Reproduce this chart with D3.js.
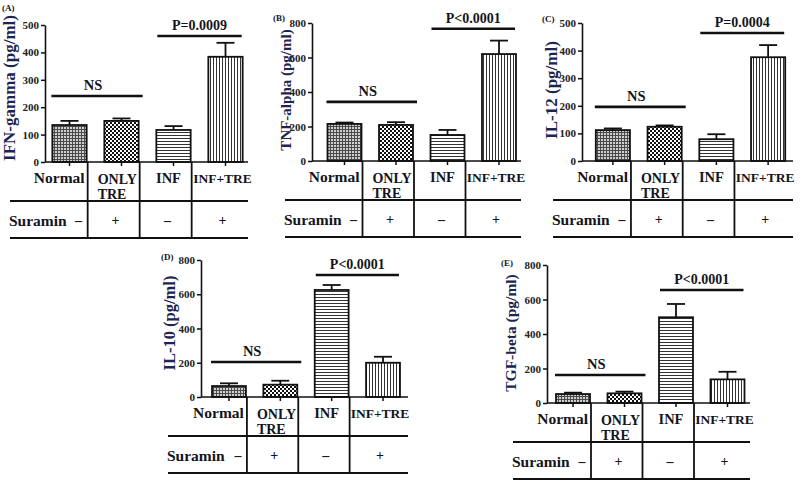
<!DOCTYPE html>
<html><head><meta charset="utf-8">
<script src="https://cdn.jsdelivr.net/npm/d3@7"></script>
<style>body{margin:0;background:#fff}svg{display:block}</style>
</head><body>
<svg id="c" width="800" height="485"></svg>
<script>
// ---------- DATA ----------
const categories = ["Normal", "ONLY TRE", "INF", "INF+TRE"];
const suramin = ["-", "+", "-", "+"];
const panelIds = ["(A)", "(B)", "(C)", "(D)", "(E)"];
const yLabels = ["IFN-gamma (pg/ml)", "TNF-alpha (pg/ml)", "IL-12 (pg/ml)", "IL-10 (pg/ml)", "TGF-beta (pg/ml)"];
const ticksA = [0, 100, 200, 300, 400, 500];
const ticksB = [0, 200, 400, 600, 800];
const ticksC = [0, 100, 200, 300, 400, 500];
const ticksD = [0, 200, 400, 600, 800];
const ticksE = [0, 200, 400, 600, 800];
const meanA = [135, 150, 117, 384];
const errA  = [15, 9, 14, 51];
const meanB = [215, 209, 151, 620];
const errB  = [8, 16, 29, 78];
const meanC = [112, 124, 79, 376];
const errC  = [6, 5, 18, 44];
const meanD = [64, 72, 625, 200];
const errD  = [16, 23, 29, 35];
const meanE = [52, 56, 497, 137];
const errE  = [8, 10, 77, 44];
const pTexts = ["P=0.0009", "P<0.0001", "P=0.0004", "P<0.0001", "P<0.0001"];
const nsLevels = [241, 343, 196, 204, 162];
const pLevels = [460, 767, 464, 712, 655];

// ---------- LAYOUT ----------
const layout = [
  {ax: 45,  y0: 162, yTop: 25,  band: [43.5, 251.5],   tL: 10,  tR: 248, idX: 2,   idY: 11,  labX: 15,  labY: 88,  labF: 17},
  {ax: 312, y0: 161, yTop: 23,  band: [318.75, 524.75], tL: 285, tR: 521, idX: 273, idY: 21, labX: 291, labY: 90,  labF: 15},
  {ax: 582, y0: 161, yTop: 23,  band: [587, 794],      tL: 553, tR: 793, idX: 542, idY: 22,  labX: 557, labY: 90,  labF: 17},
  {ax: 201, y0: 397, yTop: 260, band: [203.3, 408.7],  tL: 168, tR: 408, idX: 161, idY: 260, labX: 175, labY: 323, labF: 16.5},
  {ax: 547, y0: 403, yTop: 265, band: [547.25, 753.25], tL: 513, tR: 750, idX: 501, idY: 266, labX: 516, labY: 333, labF: 15.5}
];
const panels = [
  {ticks: ticksA, mean: meanA, err: errA},
  {ticks: ticksB, mean: meanB, err: errB},
  {ticks: ticksC, mean: meanC, err: errC},
  {ticks: ticksD, mean: meanD, err: errD},
  {ticks: ticksE, mean: meanE, err: errE}
];

const FONT = "'Liberation Serif','Times New Roman',serif";
const TXT = "#141420";
const LABC = "#1b2550";
const svg = d3.select("#c");

// ---------- PATTERNS ----------
const defs = svg.append("defs");
const pGrid = defs.append("pattern").attr("id", "pGrid").attr("patternUnits", "userSpaceOnUse").attr("width", 3).attr("height", 3);
pGrid.append("rect").attr("width", 3).attr("height", 3).attr("fill", "#cfcfcf");
pGrid.append("rect").attr("width", 3).attr("height", 1).attr("fill", "#4a4a4a");
pGrid.append("rect").attr("width", 1).attr("height", 3).attr("fill", "#4a4a4a");
const pChk = defs.append("pattern").attr("id", "pChk").attr("patternUnits", "userSpaceOnUse").attr("width", 4).attr("height", 4);
pChk.append("rect").attr("width", 4).attr("height", 4).attr("fill", "#fff");
pChk.append("rect").attr("width", 2).attr("height", 2).attr("fill", "#111");
pChk.append("rect").attr("x", 2).attr("y", 2).attr("width", 2).attr("height", 2).attr("fill", "#111");
const pH = defs.append("pattern").attr("id", "pH").attr("patternUnits", "userSpaceOnUse").attr("width", 3).attr("height", 3);
pH.append("rect").attr("width", 3).attr("height", 3).attr("fill", "#fff");
pH.append("rect").attr("width", 3).attr("height", 1).attr("fill", "#333");
const pV = defs.append("pattern").attr("id", "pV").attr("patternUnits", "userSpaceOnUse").attr("width", 3).attr("height", 3);
pV.append("rect").attr("width", 3).attr("height", 3).attr("fill", "#fff");
pV.append("rect").attr("width", 1).attr("height", 3).attr("fill", "#333");
const fills = ["url(#pGrid)", "url(#pChk)", "url(#pH)", "url(#pV)"];

// ---------- DRAW ----------
panels.forEach((p, i) => {
  const L = layout[i];
  const g = svg.append("g");
  const maxV = p.ticks[p.ticks.length - 1];
  const y = d3.scaleLinear().domain([0, maxV]).range([L.y0, L.yTop]);
  const x = d3.scaleBand().domain(categories).range(L.band).paddingInner(0.34).paddingOuter(0.17);
  const bw = x.bandwidth();

  // y axis
  const ya = g.append("g").attr("transform", `translate(${L.ax},0)`)
    .call(d3.axisLeft(y).tickValues(p.ticks).tickSize(4).tickSizeOuter(0).tickPadding(2));
  ya.select(".domain").attr("stroke", "#111").attr("stroke-width", 1.6);
  ya.selectAll(".tick line").attr("stroke", "#111").attr("stroke-width", 1.5);
  ya.selectAll(".tick text").attr("font-family", FONT).attr("font-weight", "bold")
    .attr("font-size", 11).attr("fill", "#222");

  // bars
  g.selectAll("rect.bar").data(p.mean).join("rect").attr("class", "bar")
    .attr("x", (d, j) => x(categories[j]))
    .attr("y", d => y(d))
    .attr("width", bw)
    .attr("height", d => L.y0 - y(d))
    .attr("fill", (d, j) => fills[j])
    .attr("stroke", "#111").attr("stroke-width", 1.8);

  // error bars
  p.mean.forEach((m, j) => {
    const cx = x(categories[j]) + bw / 2;
    g.append("line").attr("x1", cx).attr("x2", cx).attr("y1", y(m)).attr("y2", y(m + p.err[j]))
      .attr("stroke", "#111").attr("stroke-width", 1.8);
    g.append("line").attr("x1", cx - 9).attr("x2", cx + 9).attr("y1", y(m + p.err[j])).attr("y2", y(m + p.err[j]))
      .attr("stroke", "#111").attr("stroke-width", 1.8);
  });

  // x axis
  g.append("line").attr("x1", L.ax).attr("x2", L.tR).attr("y1", L.y0).attr("y2", L.y0)
    .attr("stroke", "#111").attr("stroke-width", 1.6);
  const xa = g.append("g").attr("transform", `translate(0,${L.y0})`)
    .call(d3.axisBottom(x).tickSize(4).tickFormat(""));
  xa.select(".domain").remove();
  xa.selectAll(".tick line").attr("stroke", "#111").attr("stroke-width", 1.5);

  // table lines
  [L.y0 + 39, L.y0 + 76].forEach(yy => {
    g.append("line").attr("x1", L.tL).attr("x2", L.tR).attr("y1", yy).attr("y2", yy)
      .attr("stroke", "#111").attr("stroke-width", 1.8);
  });
  categories.slice(0, 3).forEach(c => {
    const vx = x(c) + bw + 1;
    g.append("line").attr("x1", vx).attr("x2", vx).attr("y1", L.y0).attr("y2", L.y0 + 76)
      .attr("stroke", "#111").attr("stroke-width", 1.8);
  });

  const txt = (t, tx, ty, size, anchor) => g.append("text").text(t)
    .attr("x", tx).attr("y", ty).attr("font-family", FONT).attr("font-weight", "bold")
    .attr("font-size", size).attr("text-anchor", anchor || "middle").attr("fill", TXT);

  // category labels
  const c0 = x(categories[0]), c1 = x(categories[1]), c2 = x(categories[2]), c3 = x(categories[3]);
  txt(categories[0], c0 + bw - 2, L.y0 + 21, 15.5, "end");
  const parts = categories[1].split(" ");
  txt(parts[0], c0 + bw + 11, L.y0 + 22, 14, "start");
  txt(parts[1], c0 + bw + 11, L.y0 + 37, 14, "start");
  txt(categories[2], c2 + bw / 2 - 5, L.y0 + 21, 14.5);
  txt(categories[3], c3 + bw / 2 - 3, L.y0 + 21, 13.5);

  // suramin row
  txt("Suramin", L.tL - 1, L.y0 + 64, 15.5, "start");
  const offs = [9, -6, -6, -3];
  suramin.forEach((s, j) => {
    const sx = x(categories[j]) + bw / 2 + offs[j];
    txt(s === "-" ? "\u2013" : "+", sx, L.y0 + 63, 14);
  });

  // significance lines
  const nsY = y(nsLevels[i]);
  const nsX1 = c0 - 1, nsX2 = c1 + bw + 4;
  g.append("line").attr("x1", nsX1).attr("x2", nsX2).attr("y1", nsY).attr("y2", nsY)
    .attr("stroke", "#111").attr("stroke-width", 2.6);
  txt("NS", (nsX1 + nsX2) / 2 - 4, nsY - 6, 14.5);
  const pY = y(pLevels[i]);
  const pX1 = c2 + 1, pX2 = c3 + bw - 1;
  g.append("line").attr("x1", pX1).attr("x2", pX2).attr("y1", pY).attr("y2", pY)
    .attr("stroke", "#111").attr("stroke-width", 2.6);
  txt(pTexts[i], (pX1 + pX2) / 2, pY - 6, 14);

  // y label and panel id
  g.append("text").text(yLabels[i])
    .attr("transform", `translate(${L.labX},${L.labY}) rotate(-90)`)
    .attr("font-family", FONT).attr("font-weight", "bold").attr("font-size", L.labF)
    .attr("text-anchor", "middle").attr("fill", LABC);
  txt(panelIds[i], L.idX, L.idY, 9, "start");
});
</script>
</body></html>
